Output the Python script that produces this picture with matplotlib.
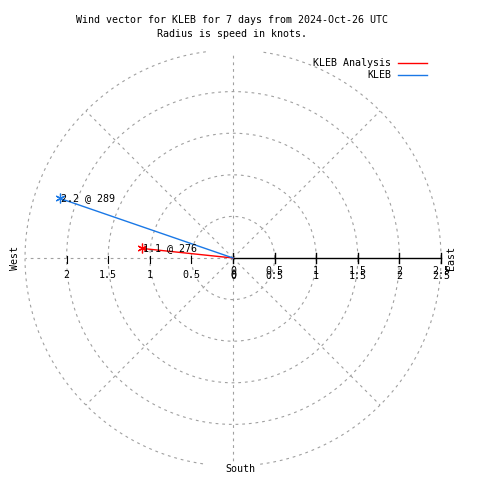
import numpy as np
import matplotlib
matplotlib.use('Agg')
import matplotlib.pyplot as plt

# wind data: speed (knots) and direction (degrees, compass)
names = ['KLEB Analysis', 'KLEB']
speeds = [1.1, 2.2]
directions = [276, 289]
colors = ['#ff0000', '#1a78e6']

rings = [0.5, 1.0, 1.5, 2.0, 2.5]
spokes = [45, 90, 135, 180, 225, 270, 315]
rightTicks = [0, 0.5, 1, 1.5, 2, 2.5]
leftTicks = [-2, -1.5, -1, -0.5, 0]

titleText = 'Wind vector for KLEB for 7 days from 2024-Oct-26 UTC\nRadius is speed in knots.'

scale = 83.2  # pixels per knot
cx = 233
cy = 258
W = 480
H = 480
ylimit = 2.48
mono = 'DejaVu Sans Mono'
fs = 7.2
gridColor = '#a0a0a0'


def px(x, y):
    return (x - cx) / scale, (cy - y) / scale


fig = plt.figure(figsize=(W / 100, H / 100), dpi=100)
ax = fig.add_axes([0, 0, 1, 1])
ax.set_xlim(-cx / scale, (W - cx) / scale)
ax.set_ylim(-(H - cy) / scale, cy / scale)
ax.axis('off')

# grid circles
theta = np.linspace(0, 2 * np.pi, 1441)
for r in rings:
    xs = r * np.cos(theta)
    ys = r * np.sin(theta)
    ys = np.where(np.abs(ys) > ylimit, np.nan, ys)
    ax.plot(xs, ys, color=gridColor, lw=0.8, ls=(0, (2.5, 3.5)))

# radial grid lines
rr = np.linspace(0, rings[-1], 200)
for a in spokes:
    xs = rr * np.cos(np.radians(a))
    ys = rr * np.sin(np.radians(a))
    ys = np.where(np.abs(ys) > ylimit, np.nan, ys)
    ax.plot(xs, ys, color=gridColor, lw=0.8, ls=(0, (2.5, 3.5)))

# x axis on the right
ax.plot([0, rightTicks[-1]], [0, 0], color='black', lw=1.0)
tl = 5 / scale
for t in rightTicks:
    ax.plot([t, t], [-tl, tl], color='black', lw=1.0)
for t in leftTicks[:-1]:
    ax.plot([t, t], [-tl, tl * 0.5], color='black', lw=0.8)

for t in rightTicks:
    lab = ('%g' % t)
    ax.text(t, px(0, 271.5)[1], lab, ha='center', va='center',
            family=mono, fontsize=fs)
    ax.text(t, px(0, 276)[1], lab, ha='center', va='center',
            family=mono, fontsize=fs)
for t in leftTicks:
    ax.text(t, px(0, 275.5)[1], '%g' % abs(t), ha='center', va='center',
            family=mono, fontsize=fs)

# compass labels
ax.text(*px(15, 258), 'West', rotation=90, ha='center', va='center',
        family=mono, fontsize=fs)
ax.text(*px(451, 258), 'East', rotation=90, ha='center', va='center',
        family=mono, fontsize=fs)
ax.text(*px(240, 469), 'South', ha='center', va='center',
        family=mono, fontsize=fs)

# wind vectors
for i in range(len(names)):
    ang = np.radians(90 - directions[i])
    x = speeds[i] * np.cos(ang)
    y = speeds[i] * np.sin(ang)
    ax.plot([0, x], [0, y], color=colors[i], lw=1.0)
    ax.plot([x], [y], marker=(6, 2, 0), color=colors[i], ms=7, mew=0.9)
    ax.text(x + 1 / scale, y, '%.1f @ %d' % (speeds[i], directions[i]),
            ha='left', va='center', family=mono, fontsize=fs)

# legend
legendY = [63, 75]
for i in range(len(names)):
    ax.text(*px(391, legendY[i]), names[i], ha='right', va='center',
            family=mono, fontsize=fs)
    x0, y0 = px(398, legendY[i])
    x1, y1 = px(427, legendY[i])
    ax.plot([x0, x1], [y0, y1], color=colors[i], lw=1.0)

fig.text(232 / W, 1 - 27 / H, titleText, ha='center', va='center',
         family=mono, fontsize=fs, linespacing=1.45)

fig.savefig('out.png', dpi=100)
plt.close(fig)
